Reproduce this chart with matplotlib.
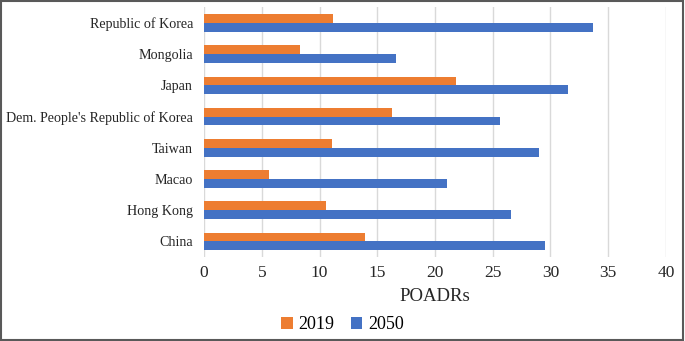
import numpy as np
import matplotlib
matplotlib.use('Agg')
import matplotlib.pyplot as plt
from matplotlib.patches import Rectangle

# Dados, de baixo para cima
regioes = ['China', 'Hong Kong', 'Macao', 'Taiwan',
           "Dem. People's Republic of Korea", 'Japan', 'Mongolia',
           'Republic of Korea']
poadr_2019 = [13.9, 10.6, 5.6, 11.1, 16.3, 21.8, 8.3, 11.2]
poadr_2050 = [29.5, 26.6, 21.0, 29.0, 25.6, 31.5, 16.6, 33.7]
xticks = [0, 5, 10, 15, 20, 25, 30, 35, 40]

plt.rcParams['font.family'] = ['Liberation Serif', 'DejaVu Serif']

fig = plt.figure(figsize=(6.85, 3.41), dpi=100)
ax = fig.add_axes([0.298, 0.246, 0.674, 0.733])

y = np.arange(len(regioes))
h = 0.28
ax.barh(y + h / 2, poadr_2019, height=h, color='#ED7D31', label='2019', zorder=3)
ax.barh(y - h / 2, poadr_2050, height=h, color='#4472C4', label='2050', zorder=3)

ax.set_xlim(0, 40)
ax.set_ylim(-0.5, len(regioes) - 0.5)
ax.set_xticks(xticks)
ax.set_xticklabels([str(t) for t in xticks], fontsize=12.5, color='#262626')
ax.set_yticks(y)
ax.set_yticklabels(regioes, fontsize=10.1, color='#262626')
ax.tick_params(axis='both', length=0)
ax.tick_params(axis='y', pad=8)
ax.tick_params(axis='x', pad=6)
ax.grid(axis='x', color='#d9d9d9', linewidth=1, zorder=0)
for s in ax.spines.values():
    s.set_visible(False)

ax.set_xlabel('POADRs', fontsize=13.5, color='#262626', labelpad=5)

leg = fig.legend(loc='center', bbox_to_anchor=(0.5, 0.048), ncol=2, frameon=False,
                 fontsize=13, handlelength=0.65, handleheight=0.65,
                 handletextpad=0.3, columnspacing=0.9)

# Moldura externa
fig.patches.append(Rectangle((0.002, 0.003), 0.995, 0.993, transform=fig.transFigure,
                             fill=False, edgecolor='#595959', linewidth=1.5))

fig.savefig('out.png', dpi=100)
